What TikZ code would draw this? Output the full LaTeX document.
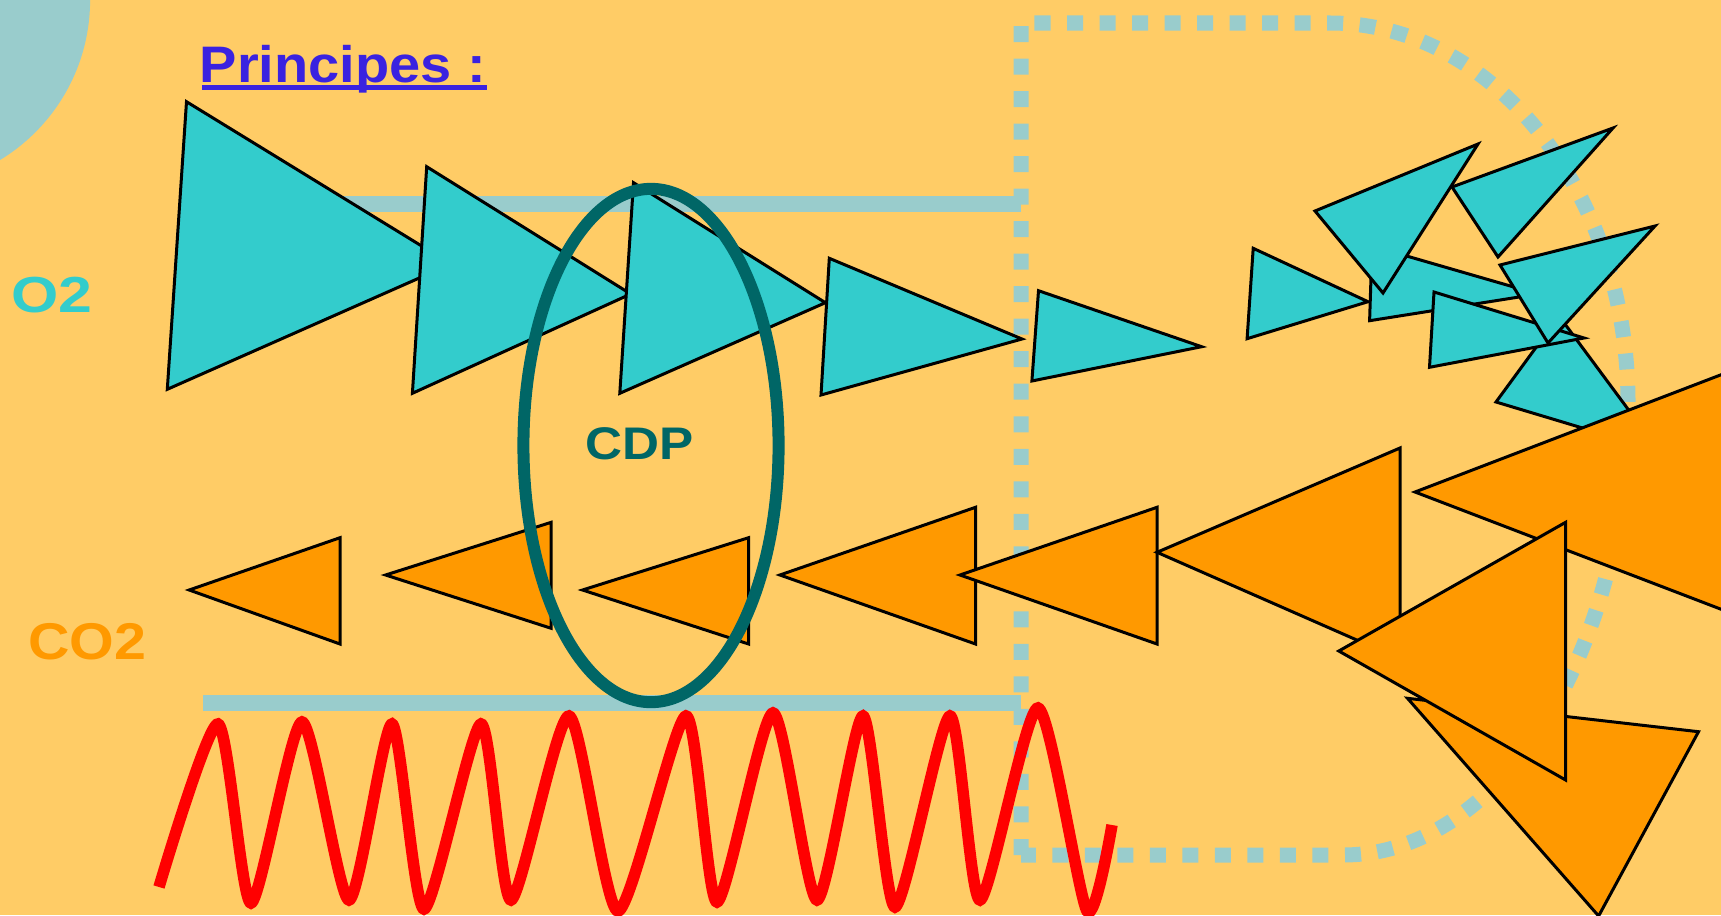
\documentclass[tikz,border=0pt]{standalone}
\usepackage{fontspec}
\newfontfamily\labelfont{Liberation Sans}

\definecolor{bgpaper}{HTML}{FFCC66}
\definecolor{paleblue}{HTML}{99CCCC}
\definecolor{oxcyan}{HTML}{33CCCC}
\definecolor{cotwo}{HTML}{FF9900}
\definecolor{cdpteal}{HTML}{006666}
\definecolor{titleblue}{HTML}{3A22E0}

\begin{document}
\begin{tikzpicture}[x=0.01cm, y=-0.01cm,
    o2tri/.style={fill=oxcyan, draw=black, line width=0.03cm},
    cotri/.style={fill=cotwo, draw=black, line width=0.03cm},
    lbl/.style={inner sep=0pt, font=\labelfont\bfseries\fontsize{#1}{17}\selectfont}]

    % --- Fond de la diapositive ---
    \useasboundingbox (0,0) rectangle (1721,915);
    \clip (0,0) rectangle (1721,915);
    \fill[bgpaper] (0,0) rectangle (1721,915);
    \fill[paleblue] (-97,0) circle (1.87cm);

    % --- Titre souligné ---
    \node[lbl=14.6, titleblue, anchor=base west] (title)
        at (199,82) {\scalebox{1.09}[1]{Principes :}};
    \draw[titleblue, line width=0.05cm] ([xshift=0.9pt, yshift=-1.56pt]title.base west)
        -- ([yshift=-1.56pt]title.base east);

    % --- Membrane : deux barres et le contour pointillé ---
    \coordinate (BarTopL) at (203,204);
    \coordinate (BarTopR) at (1021,204);
    \coordinate (BarLowL) at (203,703);
    \coordinate (BarLowR) at (1021,703);
    \draw[paleblue, line width=0.16cm] (BarTopL) -- (BarTopR);
    \draw[paleblue, line width=0.16cm] (BarLowL) -- (BarLowR);

    \draw[paleblue, line width=0.15cm, dash pattern=on 0.16cm off 0.165cm]
        (1021,855) -- (1021,23) -- (1330,23)
        .. controls (1494.5,23) and (1628,193) .. (1628,403)
        .. controls (1628,652.5) and (1500,855) .. (1343,855) -- cycle;

    % --- Flux d'O2 (vers la droite) ---
    \filldraw[o2tri] (186.5,101.7) -- (167.3,389.3) -- (451,264) -- cycle;
    \filldraw[o2tri] (426.7,166.7) -- (412.4,393.3) -- (630.7,294) -- cycle;
    \filldraw[o2tri] (633.5,182.7) -- (619.8,393.3) -- (825.4,302.7) -- cycle;
    \filldraw[o2tri] (829.3,258.3) -- (821,395) -- (1022,339) -- cycle;
    \filldraw[o2tri] (1038.5,290.7) -- (1031.9,381) -- (1201.6,346.7) -- cycle;
    \filldraw[o2tri] (1253.2,248.3) -- (1247.1,338.7) -- (1368,301.7) -- cycle;
    % amas de triangles dans la cellule
    \filldraw[o2tri] (1372,246) -- (1369.6,320.7) -- (1538,294) -- cycle;
    \filldraw[o2tri] (1452,187) -- (1613,128) -- (1498,257) -- cycle;
    \filldraw[o2tri] (1315,211) -- (1478,144) -- (1383,293) -- cycle;
    \filldraw[o2tri] (1559,316) -- (1496,402) -- (1659,451) -- cycle;
    \filldraw[o2tri] (1434,292) -- (1429.5,367.3) -- (1584,338) -- cycle;
    \filldraw[o2tri] (1500,265) -- (1655,226) -- (1548,343) -- cycle;

    % --- Flux de CO2 (vers la gauche) ---
    \filldraw[cotri] (189.2,590) -- (340,537.7) -- (340,644) -- cycle;
    \filldraw[cotri] (385.6,575) -- (551.2,522.3) -- (551.2,628.3) -- cycle;
    \filldraw[cotri] (582.5,590) -- (748.6,537.7) -- (748.6,644) -- cycle;
    \filldraw[cotri] (779.9,575) -- (975.5,507.3) -- (975.5,644) -- cycle;
    \filldraw[cotri] (960,575) -- (1157,507.3) -- (1157,644) -- cycle;
    \filldraw[cotri] (1157,552.3) -- (1400,448) -- (1400,659) -- cycle;
    \filldraw[cotri] (1415,492) -- (1770,356) -- (1770,628) -- cycle;
    \filldraw[cotri] (1407.5,698.3) -- (1698.5,731.7) -- (1598.6,916) -- cycle;
    \filldraw[cotri] (1338.8,651) -- (1565.6,522.3) -- (1565.6,780) -- cycle;

    % --- Zone CDP ---
    \draw[cdpteal, line width=0.12cm] (651,445.5) ellipse [x radius=1.275cm, y radius=2.565cm];
    \node[lbl=13, cdpteal, anchor=base] (cdp)
        at (640,459) {\scalebox{1.12}[1]{CDP}};

    % --- Étiquettes des gaz ---
    \node[lbl=14.4, oxcyan, anchor=base] (otwo)
        at (52,312) {\scalebox{1.2}[1]{O2}};
    \node[lbl=14.7, cotwo, anchor=base] (cotwolbl)
        at (87,659) {\scalebox{1.11}[1]{CO2}};

    % --- Onde rouge sous la membrane ---
    \draw[red, line width=0.115cm] plot[smooth, tension=0.4] coordinates {
        (159,887) (218,724) (251,903) (302,722) (349,900) (392,724)
        (424,909) (481,724) (511,900) (569,716) (618,911) (686,716)
        (717,902) (773,713) (817,900) (863,716) (895,907) (950,716)
        (980,900) (1038,708) (1087,911) (1112,825)};
\end{tikzpicture}
\end{document}
